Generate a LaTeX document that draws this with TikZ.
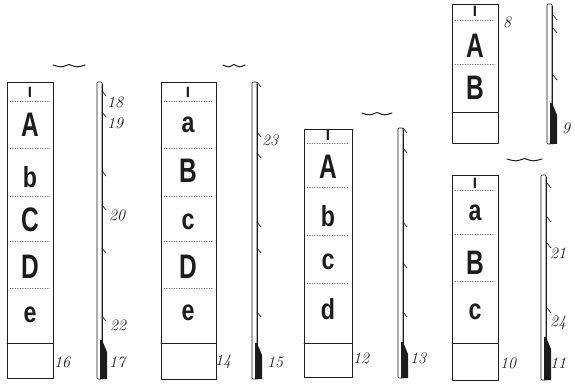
\documentclass[tikz,border=0pt]{standalone}
\usepackage{fontspec}
\newfontfamily\lett{Liberation Sans}
\definecolor{paper}{HTML}{FFFFFF}
\definecolor{ink}{HTML}{1C1C1C}
\definecolor{inkl}{HTML}{7A7A7A}
\tikzset{el/.style={line cap=round, line join=round},
  cell/.style={draw=ink, line width=0.7pt},
  sep/.style={inkl, line width=0.6pt, dash pattern=on 0.8pt off 1.7pt},
  bigl/.style={font=\lett\bfseries\fontsize{34}{34}\selectfont, text=ink, inner sep=0pt, /utils/exec={\def\sqz{0.72}}},
  lowl/.style={font=\lett\bfseries\fontsize{29}{29}\selectfont, text=ink, inner sep=0pt, /utils/exec={\def\sqz{0.8}}},
  headl/.style={font=\lett\bfseries\fontsize{15}{15}\selectfont, text=ink, inner sep=0pt, /utils/exec={\def\sqz{1}}},
  tag/.style={font=\itshape\fontsize{16}{16}\selectfont, text=ink, inner sep=0pt},
  rod/.style={draw=ink, line width=0.6pt, rounded corners=1pt},
  hair/.style={ink, line width=0.7pt},
  tie/.style={ink, line width=1pt}}

\begin{document}
\begin{tikzpicture}[el, x=1pt, y=-1pt]
  \useasboundingbox[fill=paper] (0,0) rectangle (575,387);
  % boxes with their bottom cells
  \foreach \xa/\xb/\ya/\yb/\yc in {7/53/82/378/343, 161/216/82/379/343, 304/352/129/377/343, 452/498/4/143/112, 452/498/175/380/343}{
     \draw[cell] (\xa,\ya) rectangle (\xb,\yb); \draw[cell] (\xa,\yc) -- (\xb,\yc);}
  \foreach \y in {101,148,196,241,288}{\draw[sep] (10,\y) -- (50,\y); \draw[sep] (164,\y) -- (213,\y);}
  \foreach \y in {143,187,235,283}{\draw[sep] (307,\y) -- (349,\y);}
  \foreach \y in {20,64,190,234,281}{\draw[sep] (455,\y) -- (495,\y);}
  % letters
  \foreach \t/\y/\s [count=\k] in {I/92/headl, A/125/bigl, b/177/lowl, C/220/bigl, D/267/bigl, e/315/lowl}
     \node[\s] (p\k) at (30,\y) {\scalebox{\sqz}[1]{\t}};
  \foreach \t/\y/\s [count=\k] in {I/92/headl, a/125/lowl, B/171/bigl, c/222/lowl, D/267/bigl, e/313/lowl}
     \node[\s] (q\k) at (188,\y) {\scalebox{\sqz}[1]{\t}};
  \foreach \t/\y/\s [count=\k] in {I/135/headl, A/167/bigl, b/216/lowl, c/262/lowl, d/309/lowl}
     \node[\s] (r\k) at (328,\y) {\scalebox{\sqz}[1]{\t}};
  \foreach \t/\y/\s [count=\k] in {I/11/headl, A/46/bigl, B/88/bigl}
     \node[\s] (s\k) at (475,\y) {\scalebox{\sqz}[1]{\t}};
  \foreach \t/\y/\s [count=\k] in {I/183/headl, a/213/lowl, B/263/bigl, c/312/lowl}
     \node[\s] (t\k) at (475,\y) {\scalebox{\sqz}[1]{\t}};
  % rods
  \foreach \xl/\ya/\yb/\yf in {97/82/379/340, 252/82/379/343, 398/128/378/342, 547/4/144/103, 541/175/380/337}{
     \draw[rod] (\xl,\ya) rectangle (\xl+5,\yb);
     \draw[ink, line width=0.9pt] (\xl+5,\ya+2) -- (\xl+5,\yb);
     \fill[ink] (\xl+3,\yf) -- (\xl+5,\yf) -- (\xl+10,\yf+12) -- (\xl+10,\yb) -- (\xl+3,\yb) -- cycle;}
  \foreach \x/\y in {102/96, 102/117, 102/176, 102/210, 102/253, 102/321,
                     257/87, 257/137, 257/158, 257/227, 257/253, 257/317,
                     403/133, 403/153, 403/227, 403/268, 403/317,
                     553/20, 553/33, 553/80,
                     547/188, 547/222, 547/248, 547/313}
     \draw[hair] (\x,\y-5) -- (\x+4,\y);
  % numbers
  \foreach \n/\x/\y in {16/62/362, 17/117/362, 18/115/102, 19/115/123, 20/117/215, 22/118/325,
                        14/223/362, 15/275/362, 23/270/140, 12/361/358, 13/418/358,
                        8/507/22, 9/566/128, 10/508/363, 11/558/363, 21/558/253, 24/558/323}
     \node[tag] (n\n) at (\x,\y) {\n};
  % ties between columns
  \foreach \xa/\xb/\y in {53/85/65, 223/245/65, 362/392/113, 507/542/159}
     \draw[tie] (\xa,\y) .. controls ({\xa+(\xb-\xa)/4},\y+2.5) .. ({(\xa+\xb)/2},\y-0.5)
                .. controls ({\xb-(\xb-\xa)/4},\y+2.5) .. (\xb,\y);
\end{tikzpicture}
\end{document}
